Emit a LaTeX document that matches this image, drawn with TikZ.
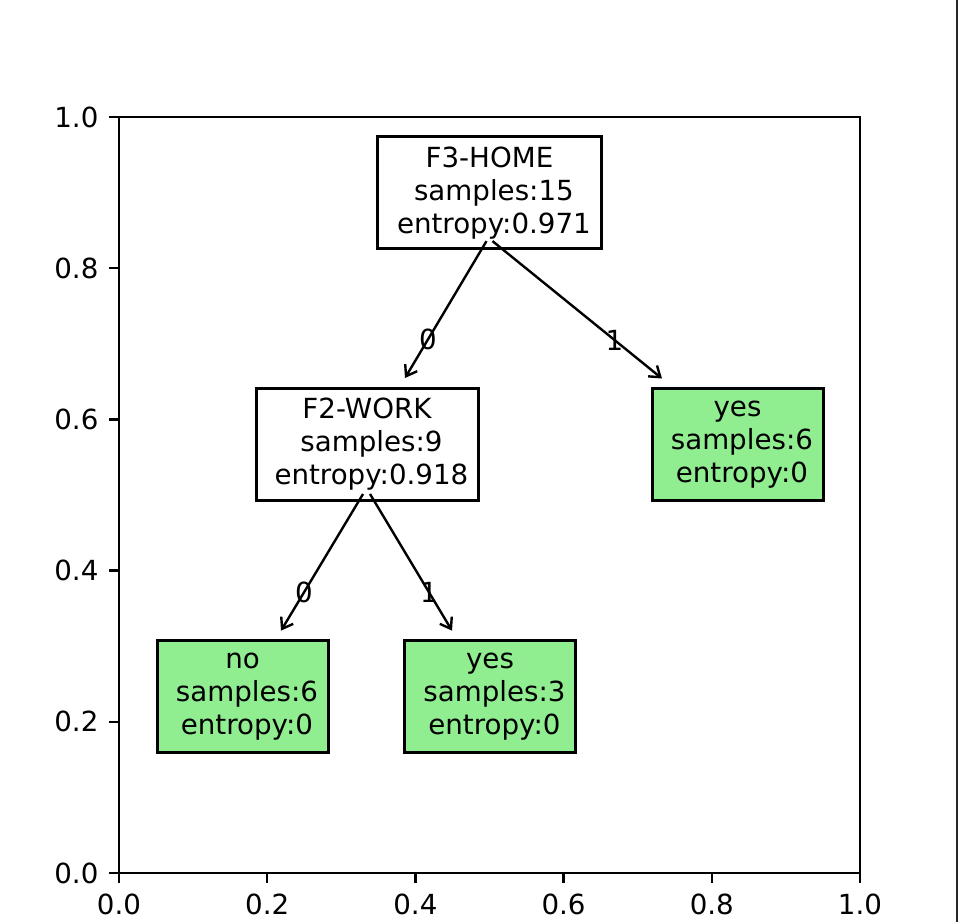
\documentclass[tikz,border=0pt]{standalone}
\usepackage{fontspec}
\setmainfont{DejaVu Sans}
\usepackage{tikz}
\usetikzlibrary{arrows.meta,positioning}
\definecolor{leafgreen}{HTML}{90EE90}
\newcommand{\indsp}{\hspace*{.318em}}

\tikzset{
  splitbox/.style={draw,line width=3pt,fill=white,minimum width=222pt,minimum height=112pt,align=center,inner sep=0pt},
  leafbox/.style={splitbox,fill=leafgreen,minimum width=171pt},
  branch/.style={->,line width=2.4pt},
}

\begin{document}
\begin{tikzpicture}[x=741pt,y=756pt,>={Straight Barb[length=10pt,width=14pt]},every node/.style={font=\fontsize{27.7}{33}\selectfont}]
  \useasboundingbox (-0.1606,-0.0648) rectangle (1.1323,1.1548);
  % axes and ticks
  \draw[line width=2.4pt] (0,0) rectangle (1,1);
  \foreach \v/\lab [count=\i] in {0/0.0,0.2/0.2,0.4/0.4,0.6/0.6,0.8/0.8,1/1.0}{
    \draw[line width=2.4pt] (\v,0) -- ++(0,-9.7pt) node[below=9.7pt,inner sep=0pt] (xt\i) {\lab};
    \draw[line width=2.4pt] (0,\v) -- ++(-9.7pt,0) node[left=9.7pt,inner sep=0pt] (yt\i) {\lab};
  }
  % tree
  \node[splitbox,minimum width=224pt] (home) at (0.5,0.9) {F3-HOME\\\indsp samples:15\\\indsp entropy:0.971};
  \node[splitbox] (work) at (0.3347,0.5668) {F2-WORK\\\indsp samples:9\\\indsp entropy:0.918};
  \node[leafbox] (yesa) at (0.8347,0.5668) {yes\\\indsp samples:6\\\indsp entropy:0};
  \node[leafbox] (no) at (0.1667,0.2333) {no\\\indsp samples:6\\\indsp entropy:0};
  \node[leafbox] (yesb) at (0.5007,0.2333) {yes\\\indsp samples:3\\\indsp entropy:0};
  \draw[branch] ([shift={(-3pt,9pt)}]home.south) -- node[pos=.72,inner sep=0pt] (b1) {0} ([shift={(38pt,9pt)}]work.north);
  \draw[branch] ([shift={(3pt,9pt)}]home.south) -- node[pos=.72,inner sep=0pt] (b2) {1} ([shift={(-75.5pt,8.5pt)}]yesa.north);
  \draw[branch] ([shift={(-4pt,8pt)}]work.south) -- node[pos=.72,inner sep=0pt] (b3) {0} ([shift={(38.5pt,8.5pt)}]no.north);
  \draw[branch] ([shift={(3pt,8pt)}]work.south) -- node[pos=.72,inner sep=0pt] (b4) {1} ([shift={(-38pt,8.5pt)}]yesb.north);
  % right edge of the canvas
  \draw[line width=2pt,black!85] (1.1309,-0.0648) -- (1.1309,1.1548);
\end{tikzpicture}
\end{document}
